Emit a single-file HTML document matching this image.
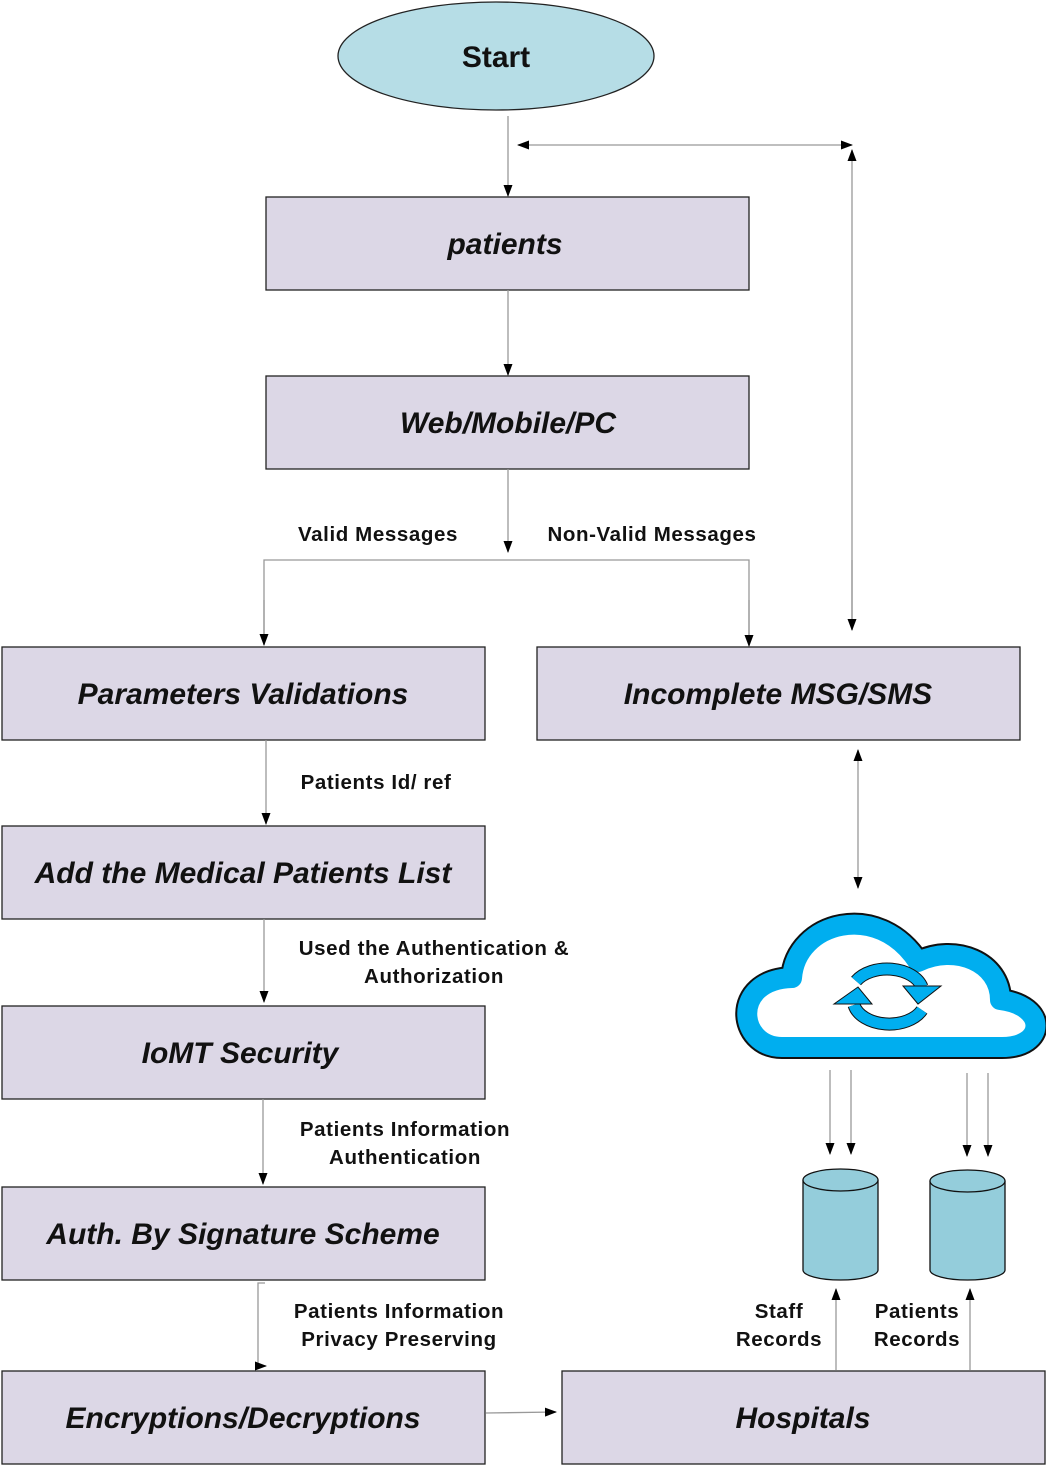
<!DOCTYPE html>
<html><head><meta charset="utf-8"><style>
html,body{margin:0;padding:0;background:#fff}
svg{display:block}
.b{fill:#dcd7e6;stroke:#222;stroke-width:1.3}
.t{font-family:"Liberation Sans",sans-serif;font-weight:bold;font-style:italic;font-size:30px;fill:#111;text-anchor:middle}
.l{font-family:"Liberation Sans",sans-serif;font-weight:bold;font-size:20.5px;letter-spacing:0.6px;fill:#111;text-anchor:middle}
.c{stroke:#999;stroke-width:1.3;fill:none}
</style></head><body>
<svg width="1046" height="1466" viewBox="0 0 1046 1466" xmlns="http://www.w3.org/2000/svg">
<defs><marker id="a" markerWidth="12" markerHeight="12" refX="11" refY="6" orient="auto" markerUnits="userSpaceOnUse"><path d="M0,1.5 L12,6 L0,10.5 Z" fill="#000"/></marker>
<marker id="s" markerWidth="12" markerHeight="12" refX="1" refY="6" orient="auto" markerUnits="userSpaceOnUse"><path d="M12,1.5 L0,6 L12,10.5 Z" fill="#000"/></marker></defs>
<ellipse cx="496" cy="56" rx="158" ry="54" fill="#b6dde6" stroke="#222" stroke-width="1.3"/>
<text x="496" y="67" class="t" style="font-style:normal">Start</text>
<rect class="b" x="266" y="197" width="483" height="93"/><text class="t" x="505" y="254">patients</text>
<rect class="b" x="266" y="376" width="483" height="93"/><text class="t" x="508" y="433">Web/Mobile/PC</text>
<rect class="b" x="2" y="647" width="483" height="93"/><text class="t" x="243" y="704">Parameters Validations</text>
<rect class="b" x="537" y="647" width="483" height="93"/><text class="t" x="778" y="704">Incomplete MSG/SMS</text>
<rect class="b" x="2" y="826" width="483" height="93"/><text class="t" x="243" y="883">Add the Medical Patients List</text>
<rect class="b" x="2" y="1006" width="483" height="93"/><text class="t" x="240" y="1063">IoMT Security</text>
<rect class="b" x="2" y="1187" width="483" height="93"/><text class="t" x="243" y="1244">Auth. By Signature Scheme</text>
<rect class="b" x="2" y="1371" width="483" height="93"/><text class="t" x="243" y="1428">Encryptions/Decryptions</text>
<rect class="b" x="562" y="1371" width="483" height="93"/><text class="t" x="803" y="1428">Hospitals</text>
<line class="c" x1="508" y1="116" x2="508" y2="196" marker-end="url(#a)"/>
<line class="c" x1="518" y1="145" x2="852" y2="145" marker-start="url(#s)" marker-end="url(#a)"/>
<line class="c" x1="852" y1="630" x2="852" y2="150" marker-end="url(#a)"/>
<line class="c" x1="852" y1="560" x2="852" y2="630" marker-end="url(#a)"/>
<line class="c" x1="508" y1="290" x2="508" y2="375" marker-end="url(#a)"/>
<line class="c" x1="508" y1="469" x2="508" y2="552" marker-end="url(#a)"/>
<polyline class="c" points="264,645 264,560 749,560 749,645"/>
<line class="c" x1="264" y1="600" x2="264" y2="645" marker-end="url(#a)"/>
<line class="c" x1="749" y1="600" x2="749" y2="646" marker-end="url(#a)"/>
<text class="l" x="378" y="541">Valid Messages</text>
<text class="l" x="652" y="541">Non-Valid Messages</text>
<line class="c" x1="266" y1="740" x2="266" y2="824" marker-end="url(#a)"/>
<text class="l" x="376" y="789">Patients Id/ ref</text>
<line class="c" x1="264" y1="919" x2="264" y2="1002" marker-end="url(#a)"/>
<text class="l" x="434" y="955">Used the Authentication &amp;</text>
<text class="l" x="434" y="983">Authorization</text>
<line class="c" x1="263" y1="1099" x2="263" y2="1184" marker-end="url(#a)"/>
<text class="l" x="405" y="1136">Patients Information</text>
<text class="l" x="405" y="1164">Authentication</text>
<polyline class="c" points="265,1283 258,1283 258,1366"/>
<line class="c" x1="258" y1="1366" x2="266" y2="1366" marker-end="url(#a)"/>
<text class="l" x="399" y="1318">Patients Information</text>
<text class="l" x="399" y="1346">Privacy Preserving</text>
<line class="c" x1="486" y1="1413" x2="556" y2="1412" marker-end="url(#a)"/>
<line class="c" x1="858" y1="750" x2="858" y2="888" marker-start="url(#s)" marker-end="url(#a)"/>
<path d="M782,1047 C738,1047 730,980 792,978 C796,922 878,900 918,962 C955,944 1000,962 1000,1000 C1048,1006 1046,1047 1002,1047 Z" fill="#fff" stroke="#111" stroke-width="24" stroke-linejoin="round"/>
<path d="M782,1047 C738,1047 730,980 792,978 C796,922 878,900 918,962 C955,944 1000,962 1000,1000 C1048,1006 1046,1047 1002,1047 Z" fill="#fff" stroke="#00aeef" stroke-width="20" stroke-linejoin="round"/>
<path d="M856,981 A36,24 0 0 1 922,987" fill="none" stroke="#111" stroke-width="13"/>
<path d="M856,981 A36,24 0 0 1 922,987" fill="none" stroke="#00aeef" stroke-width="11"/>
<path d="M903,986 L941,986 L918,1004 Z" fill="#00aeef" stroke="#111"/>
<path d="M922,1010 A36,24 0 0 1 854,1005" fill="none" stroke="#111" stroke-width="13"/>
<path d="M922,1010 A36,24 0 0 1 854,1005" fill="none" stroke="#00aeef" stroke-width="11"/>
<path d="M834,1004 L872,1004 L858,987 Z" fill="#00aeef" stroke="#111"/>
<line class="c" x1="830" y1="1070" x2="830" y2="1154" marker-end="url(#a)"/>
<line class="c" x1="851" y1="1070" x2="851" y2="1154" marker-end="url(#a)"/>
<line class="c" x1="967" y1="1073" x2="967" y2="1156" marker-end="url(#a)"/>
<line class="c" x1="988" y1="1073" x2="988" y2="1156" marker-end="url(#a)"/>
<g fill="#94cddb" stroke="#111" stroke-width="1.3">
<path d="M803,1180 L803,1270 A37.5,10 0 0 0 878,1270 L878,1180"/>
<ellipse cx="840.5" cy="1180" rx="37.5" ry="11"/>
<path d="M930,1181 L930,1270 A37.5,10 0 0 0 1005,1270 L1005,1181"/>
<ellipse cx="967.5" cy="1181" rx="37.5" ry="11"/>
</g>
<line class="c" x1="836" y1="1370" x2="836" y2="1289" marker-end="url(#a)"/>
<line class="c" x1="970" y1="1370" x2="970" y2="1289" marker-end="url(#a)"/>
<text class="l" x="779" y="1318">Staff</text>
<text class="l" x="779" y="1346">Records</text>
<text class="l" x="917" y="1318">Patients</text>
<text class="l" x="917" y="1346">Records</text>
</svg>
</body></html>
